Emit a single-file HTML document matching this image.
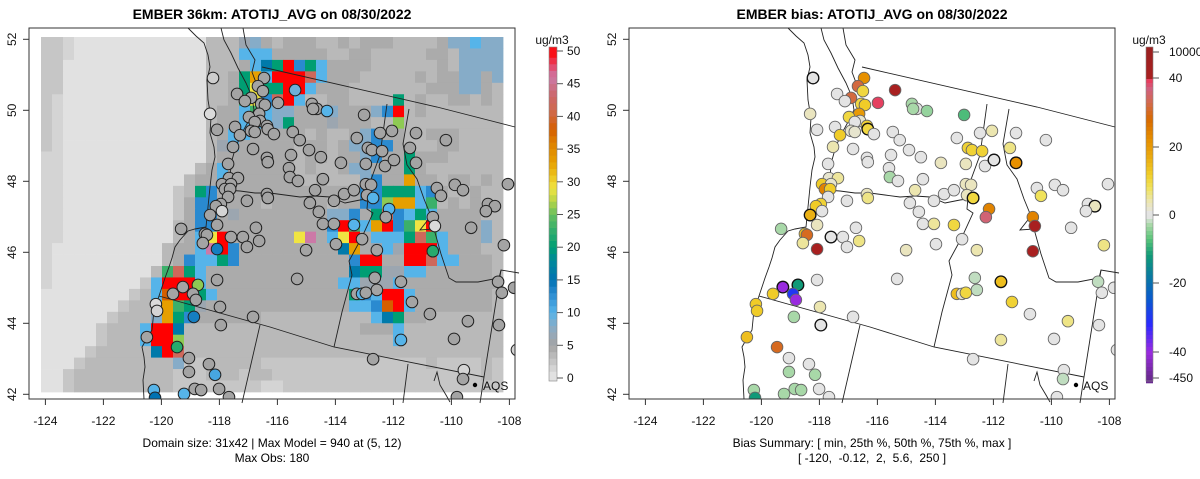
<!DOCTYPE html>
<html><head><meta charset="utf-8"><style>
html,body{margin:0;padding:0;background:#fff;}
svg{display:block;font-family:"Liberation Sans",Arial,sans-serif;}
</style></head><body>
<svg id="chart" width="1200" height="479" viewBox="0 0 1200 479" xmlns="http://www.w3.org/2000/svg">
<defs>
<clipPath id="clipL"><rect x="29" y="28" width="486" height="371"/></clipPath>
<clipPath id="clipR"><rect x="629" y="28" width="486" height="371"/></clipPath>
</defs>
<text x="272" y="19" text-anchor="middle" font-size="14" font-weight="bold">EMBER 36km: ATOTIJ_AVG on 08/30/2022</text>
<text x="872" y="19" text-anchor="middle" font-size="14" font-weight="bold">EMBER bias: ATOTIJ_AVG on 08/30/2022</text>
<g id="leftPanel"></g>
<g id="rightPanel"></g>
<text x="272" y="447" text-anchor="middle" font-size="12">Domain size: 31x42 | Max Model = 940 at (5, 12)</text>
<text x="272" y="462" text-anchor="middle" font-size="12">Max Obs: 180</text>
<text x="872" y="447" text-anchor="middle" font-size="12">Bias Summary: [ min, 25th %, 50th %, 75th %, max ]</text>
<text x="872" y="462" text-anchor="middle" font-size="12" xml:space="preserve">[ -120,  -0.12,  2,  5.6,  250 ]</text>
</svg>
<script>
// ---------- data ----------
const xTicks = [-124,-122,-120,-118,-116,-114,-112,-110,-108];
const yTicks = [42,44,46,48,50,52];
const concTicks = [0,5,10,15,20,25,30,35,40,45,50];
const biasTicks = [-450,-40,-20,0,20,40,10000];
const biasTickLabels = ["-450","-40","-20","0","20","40","10000"];
const levelCodes = "0123456789TGLYODSPR";
const levelValues = [0.5,1.5,2.5,3.5,4.5,6,8,10,13,16,20,23,26,29,33,38,42,46,55];
const gridRows = [
"2210000000|0000033356|4344433434|4433334667|66",
"2210000000|0000033377|7444443344|3333344366|66",
"2200000000|0000033347|9TR8T74444|3333334366|66",
"2200000000|00000334TO|7RRRS74443|3333434466|46",
"2200000000|00000334TY|TTRR744433|3333344466|43",
"2100000000|00000334GY|8SR7334433|33T3433443|43",
"2100000000|000003447G|7664446444|68R3433333|33",
"2100000000|0000034477|76T4445444|33L3333333|33",
"2100000000|0000034774|4444343346|8443344433|33",
"2100000000|0000035744|4443443466|8843334433|33",
"1100000000|0000034444|4443443446|844T444333|33",
"1100000000|0000347444|4443433466|444T433333|33",
"1100000000|0003447444|4443343336|844O443443|43",
"1100000000|0023T84444|4444444448|8TTT784334|33",
"1100000000|0024884444|3444443448|8LOO7G3434|33",
"1100000000|0024884544|4444446684|TS87T74444|33",
"1100000000|0034884444|4444448RG7|OR8GYR4444|63",
"1100000000|00347YR444|444YP47YR4|777TSG7444|63",
"1000000000|03447PR844|44444449O4|575RRR7444|33",
"1000000000|034877T844|444444448R|R44RRS7744|43",
"1000000000|3GST744444|444444449T|T557744444|43",
"1000000002|7RRR744444|4444444775|5574444444|44",
"0000000023|7DRRT74444|44444444T8|7RR7444444|43",
"0000000233|7OGT544444|4444444477|8DR7444444|43",
"0000002333|6OT8444444|3333333333|79T4433333|33",
"0000023337|RR93333333|3333333334|4473333333|33",
"0000023337|RRL3333333|3333333333|3373333333|33",
"0000233333|9RS3333333|3333333333|3333333333|33",
"0002333333|3362233333|2222222222|2222232222|32",
"0023333333|3322233323|3222222222|2222222232|32",
"0023333333|3322222222|1122222222|2222222222|22"
];
const stationLon = [-118.22,-116.46,-116.67,-116.50,-117.39,-116.91,-117.12,-116.56,-116.43,-118.32,-116.63,-116.98,-116.60,-116.78,-116.36,-117.46,-118.08,-116.91,-116.78,-117.29,-117.53,-116.84,-116.36,-117.70,-117.67,-117.36,-117.91,-117.60,-117.81,-117.63,-116.36,-117.70,-117.05,-117.95,-118.12,-117.91,
-115.39,-115.98,-114.81,-114.64,-114.29,-114.77,-113.01,-116.33,-116.12,-115.47,-115.23,-113.26,-112.46,-112.05,-111.22,-110.19,-112.88,-112.74,-112.39,-111.43,-115.53,-114.91,-114.50,-116.33,-113.81,-112.95,-112.29,-111.98,-111.22,-115.60,-115.57,-115.29,-114.43,-114.70,-113.70,-113.36,-112.95,-112.77,-112.91,-112.70,-116.33,-114.88,-114.05,-114.57,-112.15,-112.26,-110.64,-110.50,-110.36,-109.88,-109.60,-108.05,-108.74,-108.50,-108.81,
-118.32,-118.08,-119.32,-118.50,-118.43,-117.60,-117.19,-116.74,-117.05,-116.63,-118.57,-118.08,-118.08,-119.26,-118.74,-118.91,-118.81,-119.60,-120.19,-120.15,-117.98,-116.84,-118.88,-117.95,-120.50,-119.46,-119.05,-118.36,-119.05,-118.15,-120.26,-120.22,-119.22,-118.85,-118.63,-118.01,-117.67,
-114.43,-114.05,-113.36,-110.57,-109.32,-113.08,-115.01,-113.98,-112.57,-110.64,-108.19,-115.32,-112.64,-112.57,-113.26,-113.08,-112.95,-111.74,-111.36,-110.74,-109.43,-108.39,-108.26,-107.84,-108.36,-111.74,-109.91,-107.74,-112.70,-109.57,-109.60,-109.81];
const stationLat = [50.91,50.91,50.68,50.54,50.46,50.35,50.26,50.18,50.15,49.90,49.90,49.81,49.70,49.67,49.56,49.53,49.45,49.42,49.39,49.30,48.97,48.91,48.66,48.49,48.09,48.09,47.92,47.92,47.78,47.78,47.64,47.56,47.45,47.36,47.30,47.16,
50.57,50.21,50.18,50.04,49.98,50.04,49.87,49.47,49.33,49.39,49.16,49.22,49.36,49.42,49.36,49.16,48.94,48.88,48.85,48.94,48.74,48.88,48.68,48.54,48.52,48.49,48.43,48.60,48.52,48.37,48.12,48.01,48.06,47.75,47.64,47.75,47.92,47.90,47.61,47.53,47.53,47.39,47.45,47.14,47.22,46.99,46.99,47.81,47.59,47.90,47.75,47.92,47.36,47.30,47.16,
47.05,46.77,46.66,46.52,46.49,46.43,46.43,46.69,46.15,46.32,46.26,46.09,45.22,45.02,45.08,44.83,44.66,44.83,44.54,44.35,44.46,44.18,44.18,43.95,43.61,43.33,43.02,42.85,42.63,42.55,42.12,41.90,42.01,42.15,42.12,42.15,41.92,
46.80,46.80,46.77,46.74,46.69,46.37,46.06,46.23,46.06,46.03,46.20,45.25,45.28,44.94,44.83,44.83,44.86,45.17,44.60,44.26,44.06,45.17,44.86,45.00,43.95,43.53,43.56,43.25,42.99,42.68,42.43,41.92];
const stationBias = [0,22,32,10,0,32,0,10,12,3,20,10,2,0,11,0,0,2,2,12,4,0,0,0,2,5,12,2,24,12,3,0,0,11,12,0,
60,39,-3,0,-4,-3,-8,10,0,0,0,0,0,4,0,0,11,11,11,6,0,0,0,0,3,3,0,0,22,0,-3,0,0,4,0,0,3,3,3,10,6,0,0,0,24,36,24,0,8,0,0,0,0,3,0,
16,3,-3,14,30,0,0,0,0,6,5,60,0,-45,-12,-30,-45,12,12,12,4,0,-3,0,14,30,0,0,-3,-3,-3,-12,-3,-3,-3,0,0,
0,5,10,60,0,0,3,0,4,60,6,0,-2,-2,14,2,10,14,11,0,6,-2,0,0,0,5,0,0,0,0,-2,0];
const stationObs = [2,5,5,5,5,5,5,5,5,1,5,5,5,5,5,5,5,5,5,5,5,5,5,5,5,5,5,5,5,5,5,5,5,5,5,1.5,
9,5,5,5,10,5,5,5,5,5,5,5,5,5,5,5,5,5,5,5,5,5,5,5,5,5,5,5,5,5,5,5,5,5,5,5,5,5,5,10,5,5,5,5,10,5,5,5,5,5,5,5,5,5,5,
5,5,5,5,5,5,5,5,5,5,5,14,5,5,26,5,5,5,1,1.5,5,5,14,5,5,22,5,5,5,11,10,15,10,5,5,5,5,
5,5,10,1,5,5,5,5,5,22,5,5,5,5,5,10,5,5,5,5,5,5,5,5,5,10,5,1.5,5,1.5,5,5];
const darkBorder = [1,44,64,65,76,90,92,97,105,106,115,146,165];

// ---------- geometry ----------
const NS="http://www.w3.org/2000/svg";
const svg=document.getElementById('chart');
const BOX={x:29,y:28,w:486,h:371};
function xScale(lon){return 45.4+(lon+124)*29.0;}
function yScale(lat){return 39.3+(52-lat)*35.5;}
function mk(tag,attrs,parent){const e=document.createElementNS(NS,tag);for(const k in attrs)e.setAttribute(k,attrs[k]);parent.appendChild(e);return e;}
function lerpHex(a,b,t){const pa=[1,3,5].map(i=>parseInt(a.substr(i,2),16)),pb=[1,3,5].map(i=>parseInt(b.substr(i,2),16));return 'rgb('+pa.map((v,i)=>Math.round(v+(pb[i]-v)*t)).join(',')+')';}
function ramp(stops,v){if(v<=stops[0][0])return stops[0][1];for(let i=1;i<stops.length;i++){if(v<=stops[i][0]){const t=(v-stops[i-1][0])/(stops[i][0]-stops[i-1][0]);return lerpHex(stops[i-1][1],stops[i][1],t);}}return stops[stops.length-1][1];}
const concStops=[[0,"#e8e8e8"],[2,"#cdcdcd"],[4,"#b2b2b2"],[5,"#a4a4a4"],[6,"#9ca6b0"],[8,"#86acc8"],[10,"#56b4e9"],[13,"#2a8ad0"],[15,"#0072b2"],[18,"#00899a"],[20,"#009e73"],[23,"#3bb06a"],[25,"#66bf5f"],[27,"#b5d447"],[29,"#f0e442"],[31,"#ecc21c"],[33,"#e69f00"],[36,"#de8000"],[38,"#d55e00"],[41,"#cf6a50"],[43,"#cc6666"],[46,"#cc79a7"],[48,"#e84060"],[50,"#ff0000"]];
function concColor(v){return ramp(concStops,v);}
const biasStops=[[-450,"#6a2a90"],[-40,"#9a2be0"],[-32,"#2a2aff"],[-25,"#0a58d0"],[-18,"#0a7aa0"],[-12,"#109a78"],[-7,"#5cc47a"],[-3,"#a8d8a8"],[-0.5,"#e4e4e4"],[0.5,"#e4e4e4"],[4,"#ece6b0"],[8,"#f0e25a"],[12,"#f0cc28"],[17,"#eaaa10"],[22,"#e69000"],[28,"#d86a00"],[33,"#d26a50"],[37,"#d06080"],[40,"#f03050"],[45,"#ff1010"],[60,"#a82020"],[10000,"#9b2020"]];
function biasColor(v){return ramp(biasStops,v);}

function drawAxes(g,dx){
  mk('rect',{x:BOX.x+dx,y:BOX.y,width:BOX.w,height:BOX.h,fill:'none',stroke:'#333','stroke-width':1},g);
  xTicks.forEach(t=>{const x=xScale(t)+dx;
    const l=mk('line',{x1:x,y1:399,x2:x,y2:405,stroke:'#333'},g);
    
    
    const tx=mk('text',{x:x,y:425,'text-anchor':'middle','font-size':12,fill:'#111'},g);tx.textContent=t;
    
    });
  yTicks.forEach(t=>{const y=yScale(t);
    const l=mk('line',{x1:23+dx,y1:y,x2:29+dx,y2:y,stroke:'#333'},g);
    
    
    const tx=mk('text',{x:16+dx,y:y,'text-anchor':'middle','font-size':12,fill:'#111',transform:'rotate(-90 '+(16+dx)+' '+y+')'},g);tx.textContent=t;
    
    });
}
const borders=[
"M188,28 L196,36 L204,43 L208,55 L210,67 L207,80 L208,100 L211,118 L210,133 L214,147 L215,157 L212,170 L210,187 L208,207 L206,227 L195,229 L188,231 L180,240 L175,247 L172,258 L169,267 L165,278 L162,287 L158,299 L154,310 L153,320 L152,330 L146,340 L142,347 L144,357 L145,367 L143,380 L144,399",
"M221,28 L224,40 L231,53 L238,68 L246,83 L252,97 L254,110 L248,122 L242,133 L236,146 L232,160 L230,175 L228,190",
"M243,28 L246,45 L255,60 L252,72 L258,88",
"M262,67 L437,107 L515,127",
"M225,190 L240,191 L255,193 L270,193 L285,195 L300,197 L315,196 L330,197 L345,203 L360,200 L367,199",
"M387,104 L380,155 L369,185 L367,209 L373,213 L362,237 L349,261 L352,275 L342,312 L334,347",
"M409,109 L403,144 L407,165 L417,179 L424,199 L431,216 L420,230 L434,229 L441,254 L449,278 L456,282 L478,282 L499,278 L501,270 L519,273",
"M159,296 L270,327 L334,347 L484,377",
"M501,270 L484,377 L480,403",
"M260,325 L242,403",
"M408,364 L403,403",
"M434,381 L437,372 L440,385 L446,395 L450,402"];
function drawBorders(g,dx){const bg=mk('g',{transform:'translate('+dx+',0)',fill:'none',stroke:'#222','stroke-width':0.9},g);
  
  borders.forEach(d=>{const p=mk('path',{d:d},bg);
    
    });}

// ---------- left panel ----------
const L=document.getElementById('leftPanel');
const gridG=mk('g',{'clip-path':'url(#clipL)'},L);


const cw=11.0,ch=11.45,gx0=41,gy0=37;
gridRows.forEach((rowStr,r)=>{const s=rowStr.replace(/\|/g,'');
  for(let c=0;c<42;c++){const ch_=s[c]||s[s.length-1];const v=levelValues[levelCodes.indexOf(ch_)];
    const rc=mk('rect',{x:gx0+c*cw,y:gy0+r*ch,width:cw+0.4,height:ch+0.4,fill:concColor(v)},gridG);
    
    }});
drawBorders(L,0);
const stL=mk('g',{'clip-path':'url(#clipL)'},L);

stationLon.forEach((lon,i)=>{const c=mk('circle',{cx:xScale(lon),cy:yScale(stationLat[i]),r:5.8,fill:concColor(stationObs[i]),stroke:'#222','stroke-width':1},stL);
  
  });
drawAxes(L,0);

// ---------- right panel ----------
const R=document.getElementById('rightPanel');
drawBorders(R,600);
const stR=mk('g',{'clip-path':'url(#clipR)'},R);

stationLon.forEach((lon,i)=>{const dk=darkBorder.indexOf(i+1)>=0;
  const c=mk('circle',{cx:xScale(lon)+600,cy:yScale(stationLat[i]),r:5.8,fill:biasColor(stationBias[i]),stroke:dk?'#111':'#666','stroke-width':dk?1.3:0.9},stR);
  
  });
drawAxes(R,600);

// AQS legend
[0,600].forEach(dx=>{const d=mk('circle',{cx:475+dx+(dx?1:0),cy:385,r:2.2,fill:'#000'},svg);
  
  
  const t=mk('text',{x:483+dx,y:390,'font-size':12,fill:'#111'},svg);t.textContent='AQS';
  
  });

// ---------- colorbars ----------
function cbY(v){return 378-(v/50)*(378-51);}
const cbL=mk('g',{},svg);


for(let k=0;k<50;k++){const y1=cbY(k+1),y0=cbY(k);
  const r=mk('rect',{x:549,y:y1-(k==49?4:0),width:8,height:(y0-y1)+(k==0?3:0)+(k==49?4:0)+0.3,fill:concColor(k+0.5)},cbL);
  
  }
mk('rect',{x:549,y:47,width:8,height:334,fill:'none',stroke:'#888','stroke-width':0.6},cbL);
concTicks.forEach(t=>{const y=cbY(t);mk('line',{x1:557,y1:y,x2:563,y2:y,stroke:'#555'},cbL);
  const tx=mk('text',{x:567,y:y+4,'font-size':12,fill:'#111'},cbL);tx.textContent=t;
  
  });
const u1=mk('text',{x:552,y:44,'text-anchor':'middle','font-size':12,fill:'#111'},cbL);u1.textContent='ug/m3';


const biasTickY=[378,352,283,215,147,78,52];
function biasToY(v){for(let i=1;i<biasTicks.length;i++){if(v<=biasTicks[i]){const t=(v-biasTicks[i-1])/(biasTicks[i]-biasTicks[i-1]);return biasTickY[i-1]+(biasTickY[i]-biasTickY[i-1])*t;}}return 47;}
function yToBias(y){for(let i=1;i<biasTickY.length;i++){if(y>=biasTickY[i]){const t=(biasTickY[i-1]-y)/(biasTickY[i-1]-biasTickY[i]);return biasTicks[i-1]+(biasTicks[i]-biasTicks[i-1])*t;}}return 10000;}
const cbR=mk('g',{},svg);


for(let y=47;y<381;y+=4){const r=mk('rect',{x:1146,y:y,width:7,height:4.3,fill:biasColor(yToBias(y+2))},cbR);
  
  }
mk('rect',{x:1146,y:47,width:7,height:334,fill:'none',stroke:'#888','stroke-width':0.6},cbR);
biasTicks.forEach((t,i)=>{const y=biasToY(t);mk('line',{x1:1153,y1:y,x2:1159,y2:y,stroke:'#555'},cbR);
  const tx=mk('text',{x:1169,y:y+4,'font-size':12,fill:'#111'},cbR);tx.textContent=biasTickLabels[i];
  
  });
const u2=mk('text',{x:1149,y:44,'text-anchor':'middle','font-size':12,fill:'#111'},cbR);u2.textContent='ug/m3';

</script>
</body></html>
